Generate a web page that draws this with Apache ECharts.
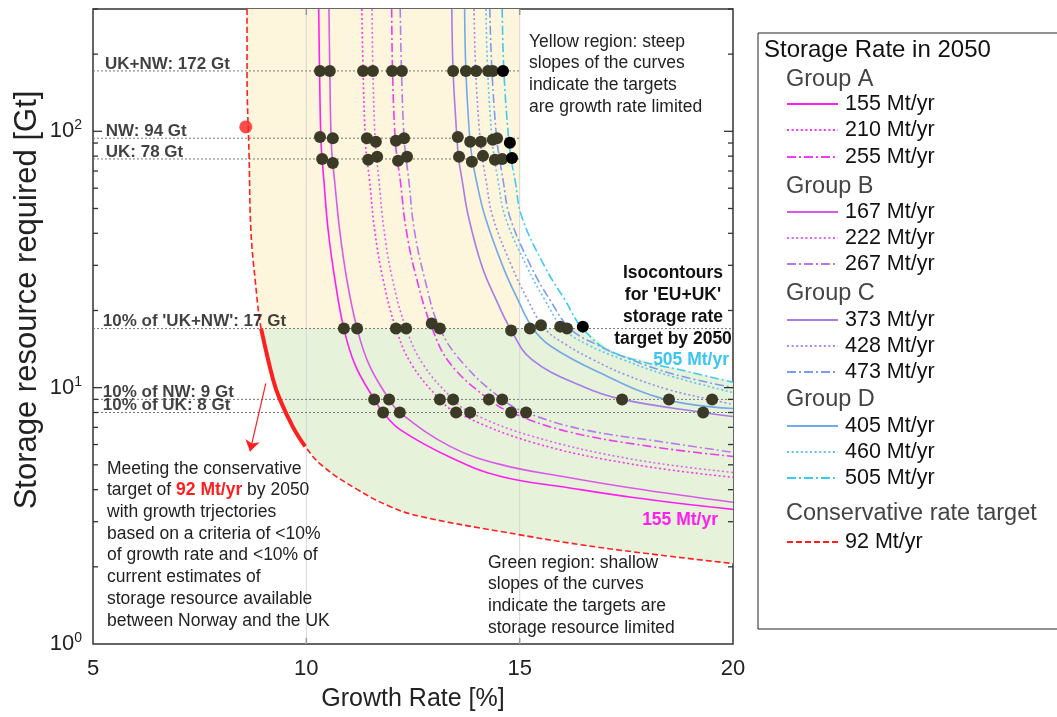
<!DOCTYPE html>
<html>
<head>
<meta charset="utf-8">
<script src="https://cdn.jsdelivr.net/npm/echarts@6/dist/echarts.min.js"></script>
<style>
html, body { margin: 0; padding: 0; background: #fff; }
#chart { width: 1057px; height: 717px; }
</style>
</head>
<body>
<div id="chart"></div>
<script>
// isocontours: [growth rate %, storage resource Gt]
var c155 = [[10.29,300],[10.31,172],[10.34,94],[10.37,78],[10.41,64.7],[10.51,41.3],[10.67,26.4],[10.88,17],[11.14,12.3],[11.59,9],[11.80,8],[12.19,6.87],[13.37,5.35],[14.54,4.51],[16.11,4.08],[17.66,3.73],[20,3.35]]
var c167 = [[10.53,300],[10.55,172],[10.58,94],[10.61,78],[10.66,64.7],[10.78,41.3],[10.95,26.4],[11.19,17],[11.47,12.3],[11.94,9],[12.19,8],[13.37,5.90],[14.54,5.02],[16.11,4.47],[17.66,4.05],[20,3.57]]
var c210 = [[11.30,300],[11.33,172],[11.38,94],[11.42,78],[11.48,64.7],[11.60,41.3],[11.80,26.4],[12.10,17],[12.47,12.3],[13.13,9],[13.51,8],[15.31,6.11],[17.66,5.02],[20,4.47]]
var c222 = [[11.54,300],[11.56,172],[11.61,94],[11.65,78],[11.70,64.7],[11.82,41.3],[12.02,26.4],[12.34,17],[12.74,12.3],[13.44,9],[13.84,8],[15.31,6.45],[17.66,5.25],[20,4.67]]
var c255 = [[12.00,300],[12.02,172],[12.08,94],[12.13,78],[12.20,64.7],[12.34,41.3],[12.59,26.4],[12.95,17],[13.39,12.3],[14.28,9],[14.80,8],[16.11,6.75],[18.05,5.90],[20,5.39]]
var c267 = [[12.20,300],[12.23,172],[12.29,94],[12.34,78],[12.40,64.7],[12.53,41.3],[12.78,26.4],[13.13,17],[13.70,12.3],[14.59,9],[15.15,8],[16.48,6.87],[18.45,6.11],[20,5.59]]
var c373 = [[13.41,300],[13.44,172],[13.53,94],[13.57,78],[13.65,64.7],[13.80,46.4],[14.12,29.6],[14.45,22.0],[14.78,17],[15.28,12.9],[16.48,10.1],[17.40,9],[19.30,8],[20,7.72]]
var c405 = [[13.71,300],[13.74,172],[13.83,94],[13.89,78],[13.98,64.7],[14.19,46.4],[14.61,29.6],[14.96,22.0],[15.31,17],[15.73,14.5],[16.84,11.5],[18.41,9],[20,8.29]]
var c428 = [[13.93,300],[13.97,172],[14.07,94],[14.13,78],[14.21,64.7],[14.37,46.4],[14.82,29.6],[15.19,22.0],[15.59,17],[16.09,14.7],[16.70,12.9],[17.47,11.25],[18.48,9.83],[19.46,9.0],[20,8.6]]
var c460 = [[14.21,300],[14.25,172],[14.35,94],[14.41,78],[14.49,64.7],[14.66,46.4],[15.17,29.6],[15.59,22.0],[16.02,17],[16.60,14.7],[17.40,12.9],[18.41,11.25],[20,9.57]]
var c473 = [[14.30,300],[14.35,172],[14.46,94],[14.53,78],[14.61,64.7],[14.77,46.4],[15.27,29.6],[15.71,22.0],[16.18,17],[16.81,14.7],[17.59,12.9],[18.64,11.25],[20,10.0]]
var c505 = [[14.59,300],[14.63,172],[14.74,94],[14.80,78],[14.89,64.7],[15.05,46.4],[15.59,29.6],[16.06,22.0],[16.48,17],[17.19,13.7],[18.99,11.5],[20,10.5]]

// conservative target 92 Mt/yr
var cRed = [[8.61,300],[8.61,172],[8.66,78],[8.70,41.3],[8.80,26.4],[8.94,17],[9.22,10.76],[9.38,9.0],[9.69,7.0],[9.97,5.9],[10.39,4.93],[11.19,4.01],[11.96,3.44],[12.66,3.15],[14.54,2.75],[16.88,2.38],[20,2.06]]
var redBold = [[8.94,17],[9.22,10.76],[9.38,9.0],[9.69,7.0],[9.97,5.9]]
var redDot = [[8.58,104]]
var arrowFrom = [9.05,10.4]
var arrowTo = [8.68,5.64]

// intersection markers
var dotsG172 = [10.32,10.55,11.33,11.56,12.01,12.24,13.44,13.74,13.98,14.26,14.37,14.61]
var dotsG94 = [10.32,10.62,11.42,11.63,12.10,12.29,13.55,13.84,14.09,14.37,14.47,14.77]
var dotsV94 = [95.1,94,94,91.0,91.8,94,95.1,91.0,91.0,92.6,94,90.2]
var dotsG78 = [10.37,10.62,11.45,11.66,12.15,12.36,13.58,13.88,14.14,14.42,14.59,14.82]
var dotsV78 = [78,75.3,77.4,79.5,76.7,79.5,79.5,76.0,80.2,77.4,78,78.7]
var dotsG17 = [10.88,11.19,12.10,12.34,12.94,13.13,14.80,15.24,15.50,15.95,16.11,16.48]
var dotsV17 = [17,17,17,17,17.8,17,16.7,17,17.5,17.3,17,17.3]
var dotsG9 = [11.59,11.94,13.13,13.44,14.28,14.59,17.40,18.50,19.51]
var dotsG8 = [11.80,12.19,13.51,13.84,14.80,15.15,19.30]

// reference levels
var refVals = [172,94,78,17,9,8]
var refEnd = [15,15,15,20,20,20]
var refLabels = ['UK+NW: 172 Gt','NW: 94 Gt','UK: 78 Gt',"10% of 'UK+NW': 17 Gt",'10% of NW: 9 Gt','10% of UK: 8 Gt']
var refLabelX = [5.28,5.3,5.3,5.23,5.23,5.23]

var gridX = [10,15]
var yTickVals = [2,3,4,5,6,7,8,9,10,20,30,40,50,60,70,80,90,100,200,300]

var groups = [
  { name: 'Group A', rates: [155,210,255] },
  { name: 'Group B', rates: [167,222,267] },
  { name: 'Group C', rates: [373,428,473] },
  { name: 'Group D', rates: [405,460,505] }
]
var curves = { 155: c155, 210: c210, 255: c255, 167: c167, 222: c222, 267: c267,
  373: c373, 428: c428, 473: c473, 405: c405, 460: c460, 505: c505 }

var FONT = 'Liberation Sans, Arial, Helvetica, sans-serif'
var DOTTED = [2, 2.6]
var DASHDOT = [9, 3, 2, 3]
var styles = {
  155: ['#ff1fef', 'solid'], 210: ['#ff33ee', DOTTED], 255: ['#f03cf0', DASHDOT],
  167: ['#d95ae8', 'solid'], 222: ['#dd66ee', DOTTED], 267: ['#b77aee', DASHDOT],
  373: ['#a57ce8', 'solid'], 428: ['#9a8cf0', DOTTED], 473: ['#7f9af0', DASHDOT],
  405: ['#72a9ea', 'solid'], 460: ['#5cc4f0', DOTTED], 505: ['#3ccbf0', DASHDOT]
}
var RED = '#ff1f1f'

// fill polygons
var yellowPoly = cRed.filter(function (p) { return p[1] >= 17 }).concat([[15,17],[15,300]])
var greenPoly = cRed.filter(function (p) { return p[1] <= 17 })
  .concat(c505.filter(function (p) { return p[1] <= 17 }).reverse())

var series = []

series.push({
  type: 'custom', silent: true,
  data: [[5,1],[5,1]],
  renderItem: function (params, api) {
    var pts = params.dataIndex === 0 ? yellowPoly : greenPoly
    return {
      type: 'polygon',
      shape: { points: pts.map(function (p) { return api.coord(p) }) },
      style: { fill: params.dataIndex === 0 ? '#fdf5dc' : '#e6f2da' }
    }
  }
})

gridX.forEach(function (g) {
  series.push({ type: 'line', silent: true, symbol: 'none', data: [[g,1],[g,300]],
    lineStyle: { color: '#d6d6d6', width: 1 } })
})

refVals.forEach(function (v, i) {
  series.push({ type: 'line', silent: true, symbol: 'none', data: [[5,v],[refEnd[i],v]],
    lineStyle: { color: '#777', width: 1, type: [2,2] } })
})

groups.forEach(function (grp) {
  grp.rates.forEach(function (r) {
    series.push({
      name: r + ' Mt/yr', type: 'line', silent: true, symbol: 'none', smooth: 0.4,
      data: curves[r],
      lineStyle: { color: styles[r][0], width: 1.6, type: styles[r][1] }
    })
  })
})

series.push({
  name: '92 Mt/yr', type: 'line', silent: true, symbol: 'none', smooth: 0.4,
  data: cRed,
  lineStyle: { color: RED, width: 1.6, type: [6,3] },
  markLine: {
    silent: true, symbol: ['none','arrow'], symbolSize: 11,
    label: { show: false },
    lineStyle: { color: RED, width: 1.2, type: 'solid' },
    data: [[{ coord: arrowFrom }, { coord: arrowTo }]]
  }
})
series.push({
  type: 'line', silent: true, symbol: 'none', smooth: 0.4,
  data: redBold, lineStyle: { color: RED, width: 4 }
})

function level(gs, vs) {
  return gs.map(function (g, i) {
    var item = { value: [g, Array.isArray(vs) ? vs[i] : vs] }
    if (i === 11) item.itemStyle = { color: '#000' }
    return item
  })
}
var dotData = [].concat(level(dotsG172, 172), level(dotsG94, dotsV94), level(dotsG78, dotsV78),
  level(dotsG17, dotsV17), level(dotsG9, 9), level(dotsG8, 8))
series.push({
  type: 'scatter', silent: true, symbolSize: 12, z: 4,
  itemStyle: { color: '#3b3a27', opacity: 1 },
  data: dotData
})
series.push({
  type: 'scatter', silent: true, symbolSize: 13, z: 4,
  itemStyle: { color: RED }, data: redDot
})

series.push({
  type: 'scatter', silent: true, symbolSize: 0, z: 6,
  data: refVals.map(function (v, i) { return { value: [refLabelX[i], v], name: refLabels[i] } }),
  label: {
    show: true, position: [0, 0], align: 'left', verticalAlign: 'middle', offset: [0, -7],
    formatter: '{b}', color: '#111', fontWeight: 'bold', fontSize: 17, fontFamily: FONT
  }
})

// ticks on left/right and top
series.push({
  type: 'custom', silent: true, clip: false, z: 5,
  data: yTickVals.map(function (v) { return [5, v] }),
  renderItem: function (params, api) {
    var v = api.value(1)
    var lg = Math.log10(v)
    var len = Math.abs(lg - Math.round(lg)) < 1e-9 ? 9 : 5
    var pL = api.coord([5, v]), pR = api.coord([20, v])
    return { type: 'group', children: [
      { type: 'line', shape: { x1: pL[0], y1: pL[1], x2: pL[0] + len, y2: pL[1] }, style: { stroke: '#333', lineWidth: 1.3 } },
      { type: 'line', shape: { x1: pR[0] - len, y1: pR[1], x2: pR[0], y2: pR[1] }, style: { stroke: '#333', lineWidth: 1.3 } }
    ] }
  }
})
series.push({
  type: 'custom', silent: true, clip: false, z: 5,
  data: gridX.map(function (g) { return [g, 1] }),
  renderItem: function (params, api) {
    var g = api.value(0)
    var pB = api.coord([g, 1]), pT = api.coord([g, 300])
    return { type: 'group', children: [
      { type: 'line', shape: { x1: pB[0], y1: pB[1], x2: pB[0], y2: pB[1] - 6 }, style: { stroke: '#999', lineWidth: 1.5 } },
      { type: 'line', shape: { x1: pT[0], y1: pT[1], x2: pT[0], y2: pT[1] + 6 }, style: { stroke: '#999', lineWidth: 1.5 } }
    ] }
  }
})

// legend drawn as graphic
var legendEls = [
  { type: 'rect', shape: { x: 758, y: 33, width: 320, height: 596 }, style: { fill: '#fff', stroke: '#222', lineWidth: 1 } },
  { type: 'text', x: 764, y: 50, style: { text: 'Storage Rate in 2050', fontSize: 24, fontFamily: FONT, fill: '#111', verticalAlign: 'middle', textVerticalAlign: 'middle' } }
]
var headerY = [80, 187, 294, 400]
var itemY = [[104,130,157],[212,238,264],[320,346,372],[426,452,478]]
function legendItem(y, color, dash, label) {
  legendEls.push({ type: 'line', shape: { x1: 787, y1: y, x2: 838, y2: y },
    style: { stroke: color, lineWidth: 1.8, lineDash: dash === 'solid' ? null : dash } })
  legendEls.push({ type: 'text', x: 845, y: y, style: { text: label, fontSize: 21.5, fontFamily: FONT, fill: '#111',
    verticalAlign: 'middle', textVerticalAlign: 'middle' } })
}
groups.forEach(function (grp, gi) {
  legendEls.push({ type: 'text', x: 786, y: headerY[gi], style: { text: grp.name, fontSize: 23.5, fontFamily: FONT, fill: '#444',
    verticalAlign: 'middle', textVerticalAlign: 'middle' } })
  grp.rates.forEach(function (r, ri) {
    legendItem(itemY[gi][ri], styles[r][0], styles[r][1], r + ' Mt/yr')
  })
})
legendEls.push({ type: 'text', x: 786, y: 514, style: { text: 'Conservative rate target', fontSize: 23.5, fontFamily: FONT, fill: '#444',
  verticalAlign: 'middle', textVerticalAlign: 'middle' } })
legendItem(542, RED, [6,3], '92 Mt/yr')

function note(x, y, text, extra) {
  var st = { text: text, fontSize: 17.5, lineHeight: 21.7, fontFamily: FONT, fill: '#222', verticalAlign: 'top', textVerticalAlign: 'top' }
  for (var k in extra) st[k] = extra[k]
  return { type: 'text', x: x, y: y, z: 100, style: st }
}

var notes = [
  note(529, 31, 'Yellow region: steep\nslopes of the curves\nindicate the targets\nare growth rate limited'),
  note(488, 552, 'Green region: shallow\nslopes of the curves\nindicate the targets are\nstorage resource limited'),
  note(107, 458, 'Meeting the conservative\ntarget of {r|92 Mt/yr} by 2050\nwith growth trjectories\nbased on a criteria of <10%\nof growth rate and <10% of\ncurrent estimates of\nstorage resource available\nbetween Norway and the UK',
    { rich: { r: { fill: RED, fontWeight: 'bold', fontSize: 17.5, lineHeight: 21.7, fontFamily: FONT } } }),
  note(673, 262, "Isocontours\nfor 'EU+UK'\nstorage rate\ntarget by 2050",
    { fontWeight: 'bold', lineHeight: 22, fill: '#111', align: 'center', textAlign: 'center' }),
  note(729, 349, '505 Mt/yr', { fontWeight: 'bold', fill: '#3cc4f2', align: 'right', textAlign: 'right' }),
  note(718, 509, '155 Mt/yr', { fontWeight: 'bold', fill: '#ff1fef', align: 'right', textAlign: 'right' }),
  { type: 'text', x: 413, y: 699, style: { text: 'Growth Rate [%]', fontSize: 25, fontFamily: FONT, fill: '#222',
    align: 'center', textAlign: 'center', verticalAlign: 'middle', textVerticalAlign: 'middle' } },
  { type: 'text', x: 27, y: 300, rotation: Math.PI / 2, style: { text: 'Storage resource required [Gt]', fontSize: 31, fontFamily: FONT, fill: '#222',
    align: 'center', textAlign: 'center', verticalAlign: 'middle', textVerticalAlign: 'middle' } }
]

var chart = echarts.init(document.getElementById('chart'))
chart.setOption({
  animation: false,
  textStyle: { fontFamily: FONT },
  grid: { left: 93, right: 324, top: 9, bottom: 73, show: true, borderColor: '#333', borderWidth: 1.5,
    backgroundColor: '#fff', containLabel: false, outerBoundsMode: 'none' },
  xAxis: {
    type: 'value', min: 5, max: 20, interval: 5,
    axisLine: { show: false }, axisTick: { show: false }, splitLine: { show: false },
    axisLabel: { fontSize: 22, color: '#222', margin: 14, fontFamily: FONT }
  },
  yAxis: {
    type: 'log', logBase: 10, min: 1, max: 300,
    axisLine: { show: false }, axisTick: { show: false }, splitLine: { show: false }, minorTick: { show: false },
    axisLabel: {
      margin: 11, color: '#222',
      formatter: function (v) {
        var e = Math.round(Math.log10(v))
        if (Math.abs(Math.pow(10, e) - v) > 1e-6 * v) return ''
        return '{b|10}{e|' + e + '}'
      },
      rich: {
        b: { fontSize: 22, color: '#222', fontFamily: FONT, lineHeight: 26 },
        e: { fontSize: 14, color: '#222', fontFamily: FONT, verticalAlign: 'top', lineHeight: 14 }
      }
    }
  },
  series: series,
  graphic: { elements: legendEls.concat(notes) }
})
</script>
</body>
</html>
